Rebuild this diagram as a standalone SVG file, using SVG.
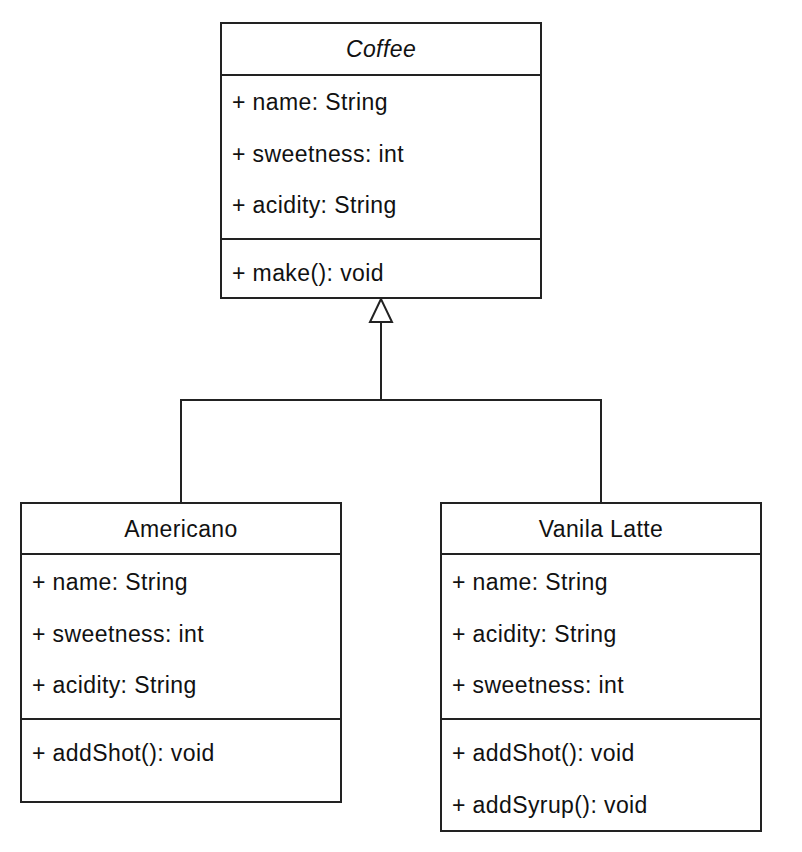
<svg xmlns="http://www.w3.org/2000/svg" width="802" height="852" viewBox="0 0 802 852">
<defs>
<style>
.box{fill:#fff;stroke:#222;stroke-width:2}
.sep{stroke:#222;stroke-width:2;fill:none}
.t{font-family:"Liberation Sans",Arial,sans-serif;font-size:23px;letter-spacing:0.4px;fill:#111}
.h{text-anchor:middle}
.edge{stroke:#222;stroke-width:2;fill:none}
.arrow{fill:#fff;stroke:#222;stroke-width:2}
</style>
</defs>
<rect x="0" y="0" width="802" height="852" fill="#fff"/>
<g id="edges">
<path class="edge" d="M181,503 V400 H601 V503"/>
<path class="edge" d="M381,400 V322"/>
<polygon class="arrow" points="381,299 370,322 392,322"/>
</g>
<g id="coffee">
<rect class="box" x="221" y="23" width="320" height="275"/>
<line class="sep" x1="221" y1="75" x2="541" y2="75"/>
<line class="sep" x1="221" y1="239" x2="541" y2="239"/>
<text class="t h" x="381" y="57" font-style="italic">Coffee</text>
<text class="t" x="232" y="110">+ name: String</text>
<text class="t" x="232" y="162">+ sweetness: int</text>
<text class="t" x="232" y="213">+ acidity: String</text>
<text class="t" x="232" y="281">+ make(): void</text>
</g>
<g id="americano">
<rect class="box" x="21" y="503" width="320" height="299"/>
<line class="sep" x1="21" y1="554" x2="341" y2="554"/>
<line class="sep" x1="21" y1="719" x2="341" y2="719"/>
<text class="t h" x="181" y="537">Americano</text>
<text class="t" x="32" y="590">+ name: String</text>
<text class="t" x="32" y="642">+ sweetness: int</text>
<text class="t" x="32" y="693">+ acidity: String</text>
<text class="t" x="32" y="761">+ addShot(): void</text>
</g>
<g id="vanila-latte">
<rect class="box" x="441" y="503" width="320" height="328"/>
<line class="sep" x1="441" y1="554" x2="761" y2="554"/>
<line class="sep" x1="441" y1="719" x2="761" y2="719"/>
<text class="t h" x="601" y="537">Vanila Latte</text>
<text class="t" x="452" y="590">+ name: String</text>
<text class="t" x="452" y="642">+ acidity: String</text>
<text class="t" x="452" y="693">+ sweetness: int</text>
<text class="t" x="452" y="761">+ addShot(): void</text>
<text class="t" x="452" y="813">+ addSyrup(): void</text>
</g>
</svg>
